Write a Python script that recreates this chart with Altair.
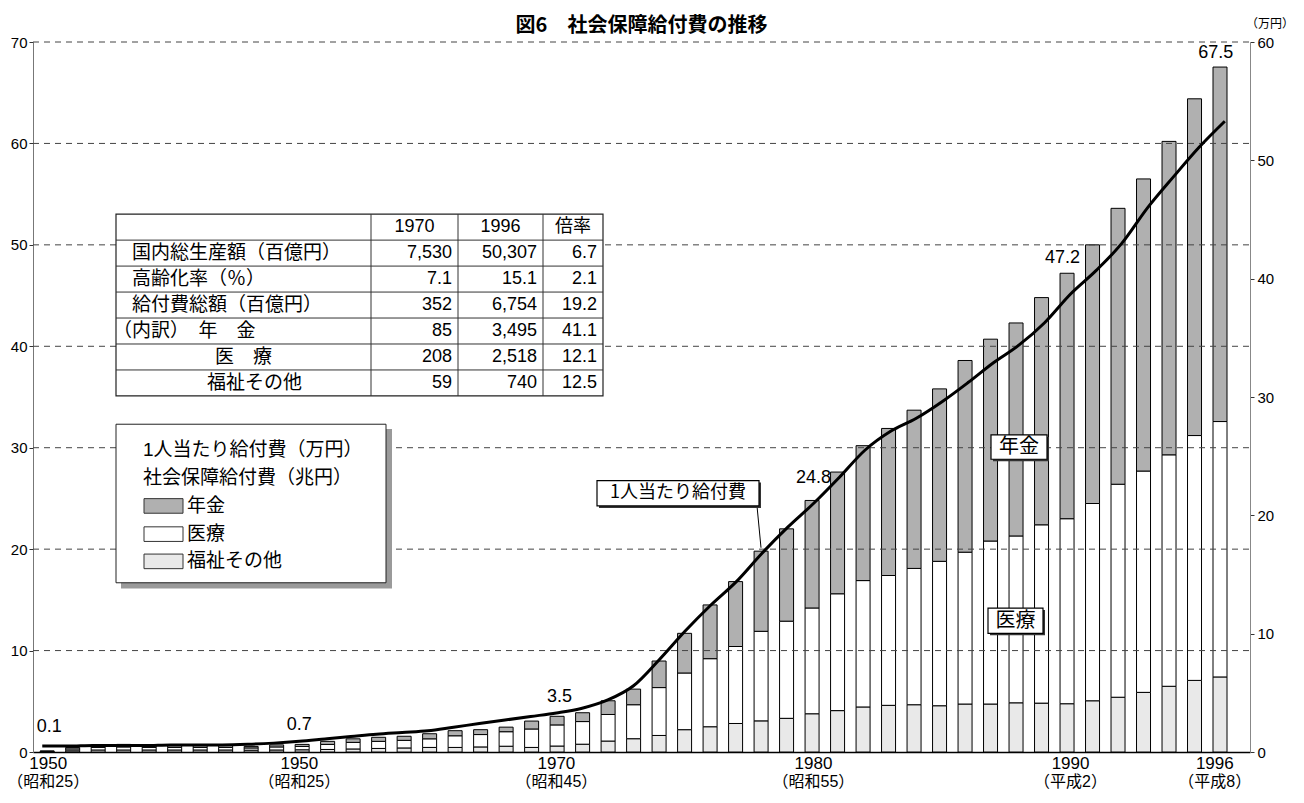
import altair as alt
import pandas as pd

# ---------------- data ----------------
years = list(range(1950, 1997))
series_names = ["年金", "医療", "福祉その他"]

# 社会保障給付費（兆円） components
pension = [0.03, 0.15, 0.25, 0.25, 0.25, 0.2, 0.2, 0.2, 0.15, 0.2,
           0.2, 0.3, 0.35, 0.4, 0.4, 0.5, 0.5, 0.48, 0.45, 0.78,
           0.85, 0.87, 1.35, 1.54, 2.62, 3.91, 5.3, 6.4, 7.9, 9.1,
           10.6, 12.0, 13.3, 14.5, 15.6, 17.0, 18.9, 19.9, 21.0, 22.4,
           24.2, 25.5, 27.2, 28.8, 30.9, 33.2, 34.95]
medical = [0.04, 0.18, 0.25, 0.3, 0.25, 0.25, 0.25, 0.25, 0.22, 0.3,
           0.33, 0.5, 0.65, 0.7, 0.75, 0.85, 1.15, 1.22, 1.43, 1.82,
           2.08, 2.23, 2.62, 3.35, 4.72, 5.59, 6.71, 7.59, 8.83, 9.58,
           10.43, 11.52, 12.46, 12.8, 13.44, 14.24, 14.97, 16.07, 16.45, 17.58,
           18.24, 19.45, 21.0, 21.82, 22.82, 24.14, 25.18]
welfare = [0.03, 0.12, 0.2, 0.2, 0.2, 0.2, 0.2, 0.2, 0.18, 0.2,
           0.22, 0.25, 0.3, 0.35, 0.4, 0.45, 0.45, 0.5, 0.57, 0.45,
           0.59, 0.77, 1.08, 1.31, 1.63, 2.2, 2.49, 2.81, 3.07, 3.32,
           3.77, 4.08, 4.44, 4.6, 4.66, 4.56, 4.73, 4.73, 4.85, 4.82,
           4.76, 5.05, 5.4, 5.88, 6.48, 7.06, 7.4]
# 1人当たり給付費（万円）
per_capita = [0.5, 0.5, 0.55, 0.55, 0.55, 0.6, 0.6, 0.6, 0.65, 0.75,
              0.9, 1.1, 1.3, 1.5, 1.65, 1.8, 2.1, 2.4, 2.7, 3.0,
              3.3, 3.7, 4.4, 5.6, 7.8, 10.2, 12.4, 14.4, 16.8, 19.0,
              21.0, 23.2, 25.5, 27.1, 28.2, 29.6, 31.2, 32.9, 34.4, 36.3,
              38.7, 40.7, 43.0, 46.0, 48.6, 51.1, 53.3]

label_years = [1950, 1960, 1970, 1980, 1990, 1996]
label_texts = ["0.1", "0.7", "3.5", "24.8", "47.2", "67.5"]

tick_years = [1950, 1960, 1970, 1980, 1990, 1996]
tick_year_text = ["1950", "1950", "1970", "1980", "1990", "1996"]
tick_era_text = ["（昭和25）", "（昭和25）", "（昭和45）", "（昭和55）", "（平成2）", "（平成8）"]
left_ticks = [0, 10, 20, 30, 40, 50, 60, 70]
right_ticks = [0, 10, 20, 30, 40, 50, 60]

title_text = "図6　社会保障給付費の推移"
right_unit = "（万円）"

table_header = ["", "1970", "1996", "倍率"]
table_rows = ["国内総生産額（百億円）", "高齢化率（％）", "給付費総額（百億円）",
              "（内訳）　年　金", "医　療", "福祉その他"]
table_1970 = ["7,530", "7.1", "352", "85", "208", "59"]
table_1996 = ["50,307", "15.1", "6,754", "3,495", "2,518", "740"]
table_ratio = ["6.7", "2.1", "19.2", "41.1", "12.1", "12.5"]

legend_titles = ["1人当たり給付費（万円）", "社会保障給付費（兆円）"]
callout_line = "1人当たり給付費"

# ---------------- layout / style ----------------
W, H = 1217, 710
PAD = {"left": 25, "top": 34, "right": 44, "bottom": 39}
FONT_JP = "Noto Sans CJK JP"
FONT_MIX = "Liberation Sans, Noto Sans CJK JP"
series_colors = ["#b0b0b0", "#ffffff", "#e9e9e9"]


def X(xr):
    return xr - 33


def Y(yr):
    return (yr - 32) * H / 730


one = pd.DataFrame({"k": [0]})
xscale = alt.Scale(domain=[1949.64, 1996.98], nice=False, zero=False)


def rect(x1, y1, x2, y2, **kw):
    return alt.Chart(one).mark_rect(**kw).encode(
        x=alt.value(X(x1)), x2=alt.value(X(x2)),
        y=alt.value(Y(y1)), y2=alt.value(Y(y2)))


def rule(x1, y1, x2, y2, **kw):
    return alt.Chart(one).mark_rule(**kw).encode(
        x=alt.value(X(x1)), x2=alt.value(X(x2)),
        y=alt.value(Y(y1)), y2=alt.value(Y(y2)))


def ptext(rows, **kw):
    return alt.Chart(pd.DataFrame(rows)).mark_text(**kw).encode(
        x=alt.X("px:Q", scale=None, axis=None),
        y=alt.Y("py:Q", scale=None, axis=None),
        text="t:N")


layers = []

# ---------------- bars ----------------
rows = []
for i, yr in enumerate(years):
    for name, vals, o in [("福祉その他", welfare, 0), ("医療", medical, 1), ("年金", pension, 2)]:
        rows.append({"year": yr, "series": name, "value": vals[i], "ord": o})
bar_df = pd.DataFrame(rows)

bars = alt.Chart(bar_df).mark_bar(size=14, stroke="black", strokeWidth=1).encode(
    x=alt.X("year:Q", scale=xscale,
            axis=alt.Axis(labels=False, ticks=False, grid=False, title=None,
                          domainColor="black", domainWidth=1.5)),
    y=alt.Y("value:Q", stack="zero", scale=alt.Scale(domain=[0, 70], nice=False),
            axis=alt.Axis(values=left_ticks, grid=False, title=None, labelFontSize=15,
                          labelFont=FONT_MIX, tickSize=4, tickColor="#333",
                          domainColor="#777", labelPadding=2, labelFlush=False,
                          labelColor="black")),
    color=alt.Color("series:N", scale=alt.Scale(domain=series_names, range=series_colors),
                    legend=None),
    order=alt.Order("ord:Q", sort="ascending"),
)
layers.append(bars)

# ---------------- dashed grid ----------------
grid = alt.Chart(pd.DataFrame({"g": left_ticks[1:]})).mark_rule(
    strokeDash=[6, 5], color="#444", strokeWidth=1).encode(
    y=alt.Y("g:Q", scale=alt.Scale(domain=[0, 70], nice=False), axis=None),
    x=alt.value(0), x2=alt.value(W))
layers.append(grid)

# ---------------- table ----------------
tcols = [116, 371, 458, 543, 603]
ttop, trow, nrows = 209, 26.7, 7
tbot = ttop + trow * nrows
layers.append(rect(116, ttop, 603, tbot, fill="white", stroke="#222", strokeWidth=1.2))
line_rows = []
for k in range(1, nrows):
    yy = Y(ttop + k * trow)
    line_rows.append({"x": X(116), "x2": X(603), "y": yy, "y2": yy})
for c in tcols[1:-1]:
    line_rows.append({"x": X(c), "x2": X(c), "y": Y(ttop), "y2": Y(tbot)})
layers.append(alt.Chart(pd.DataFrame(line_rows)).mark_rule(color="#333", strokeWidth=1).encode(
    x=alt.X("x:Q", scale=None, axis=None), x2="x2:Q",
    y=alt.Y("y:Q", scale=None, axis=None), y2="y2:Q"))

head = []
for j in range(1, 4):
    head.append({"px": X((tcols[j] + tcols[j + 1]) / 2), "py": Y(ttop + trow / 2), "t": table_header[j]})
layers.append(ptext(head, align="center", baseline="middle", fontSize=18, font=FONT_MIX, color="black"))

row_label_x = [132, 132, 132, 113, 215, 207]
lab = []
nums = []
for r in range(6):
    cy = Y(ttop + trow * (r + 1.5))
    lab.append({"px": X(row_label_x[r]), "py": cy, "t": table_rows[r]})
    for j, col in enumerate([table_1970, table_1996, table_ratio]):
        nums.append({"px": X(tcols[j + 2] - 6), "py": cy, "t": col[r]})
layers.append(ptext(lab, align="left", baseline="middle", fontSize=19, font=FONT_JP, color="black"))
layers.append(ptext(nums, align="right", baseline="middle", fontSize=18, font=FONT_MIX, color="black"))

# ---------------- legend box ----------------
layers.append(rect(121, 430, 392, 594, fill="#9a9a9a"))
layers.append(rect(116, 425, 386, 588, fill="white", stroke="#222", strokeWidth=1))
layers.append(ptext([{"px": X(143), "py": Y(452), "t": legend_titles[0]},
                     {"px": X(143), "py": Y(480), "t": legend_titles[1]}],
                    align="left", baseline="middle", fontSize=19, font=FONT_MIX, color="black"))
sw_y = [509, 538, 566]
sw_rows = []
sw_labels = []
for i, (name, colr) in enumerate(zip(series_names, series_colors)):
    sw_rows.append({"x": X(144), "x2": X(183), "y": Y(sw_y[i] - 7.5), "y2": Y(sw_y[i] + 7.5), "f": colr})
    sw_labels.append({"px": X(187), "py": Y(sw_y[i]), "t": name})
layers.append(alt.Chart(pd.DataFrame(sw_rows)).mark_rect(stroke="#333", strokeWidth=1).encode(
    x=alt.X("x:Q", scale=None, axis=None), x2="x2:Q",
    y=alt.Y("y:Q", scale=None, axis=None), y2="y2:Q",
    fill=alt.Fill("f:N", scale=None)))
layers.append(ptext(sw_labels, align="left", baseline="middle", fontSize=19, font=FONT_JP, color="black"))

# ---------------- per-capita line ----------------
line_df = pd.DataFrame({"year": years, "pc": per_capita})
line = alt.Chart(line_df).mark_line(color="black", strokeWidth=3, interpolate="monotone").encode(
    x=alt.X("year:Q", scale=xscale, axis=None),
    y=alt.Y("pc:Q", scale=alt.Scale(domain=[0, 60], nice=False),
            axis=alt.Axis(orient="right", values=right_ticks, grid=False, title=None,
                          labelFontSize=15, labelFont=FONT_MIX, tickSize=4, tickColor="#333",
                          domainColor="#888", labelPadding=3, labelFlush=False,
                          labelColor="black")))
layers.append(line)

# ---------------- callouts ----------------
layers.append(rule(757, 509, 761, 552, color="black", strokeWidth=1))
for (x1, y1, x2, y2, txt, fs) in [(597, 483, 759, 509, callout_line, 18),
                                  (991, 436, 1047, 461, series_names[0], 20),
                                  (988, 614, 1043, 640, series_names[1], 20)]:
    layers.append(rect(x1 + 2, y1 + 2, x2 + 2, y2 + 2, fill="#333"))
    layers.append(rect(x1, y1, x2, y2, fill="white", stroke="black", strokeWidth=1.2))
    layers.append(ptext([{"px": X((x1 + x2) / 2), "py": Y((y1 + y2) / 2), "t": txt}],
                        align="center", baseline="middle", fontSize=fs, font=FONT_JP, color="black"))

# ---------------- value labels ----------------
lab_dy = [-24, -20, -20, -22, -15, -14]
lab_dx = [7, 0, 3, 0, -8, -9]
for i in range(len(label_years)):
    d = pd.DataFrame({"year": [label_years[i]], "v": [float(label_texts[i])], "t": [label_texts[i]]})
    layers.append(alt.Chart(d).mark_text(fontSize=18, font=FONT_MIX, color="black",
                                         baseline="middle", dy=lab_dy[i], dx=lab_dx[i]).encode(
        x=alt.X("year:Q", scale=xscale, axis=None),
        y=alt.Y("v:Q", scale=alt.Scale(domain=[0, 70], nice=False), axis=None),
        text="t:N"))

# ---------------- x tick labels ----------------
tick_dx = [6, 0, 0, 0, 0, -10]
for i in range(len(tick_years)):
    d = pd.DataFrame({"year": [tick_years[i]], "a": [tick_year_text[i]], "b": [tick_era_text[i]]})
    layers.append(alt.Chart(d).mark_text(fontSize=17, font=FONT_MIX, color="black",
                                         baseline="middle", dx=tick_dx[i]).encode(
        x=alt.X("year:Q", scale=xscale, axis=None), y=alt.value(H + 12), text="a:N"))
    layers.append(alt.Chart(d).mark_text(fontSize=16, font=FONT_MIX, color="black",
                                         baseline="middle", dx=tick_dx[i]).encode(
        x=alt.X("year:Q", scale=xscale, axis=None), y=alt.value(H + 30), text="b:N"))

# ---------------- title and unit ----------------
layers.append(alt.Chart(one).mark_text(fontSize=20, font=FONT_JP, fontWeight="bold",
                                       color="black", baseline="middle", align="center").encode(
    x=alt.value(W / 2), y=alt.value(-16), text=alt.value(title_text)))
layers.append(alt.Chart(one).mark_text(fontSize=12, font=FONT_JP, color="black",
                                       baseline="middle", align="center").encode(
    x=alt.value(X(1270)), y=alt.value(-18), text=alt.value(right_unit)))

chart = alt.layer(*layers).resolve_scale(
    x="independent", y="independent", color="independent"
).properties(
    width=W, height=H, padding=PAD, autosize=alt.AutoSizeParams(type="none")
).configure_view(stroke=None)

chart.save("out.html", embed_options={"renderer": "svg", "actions": False})
